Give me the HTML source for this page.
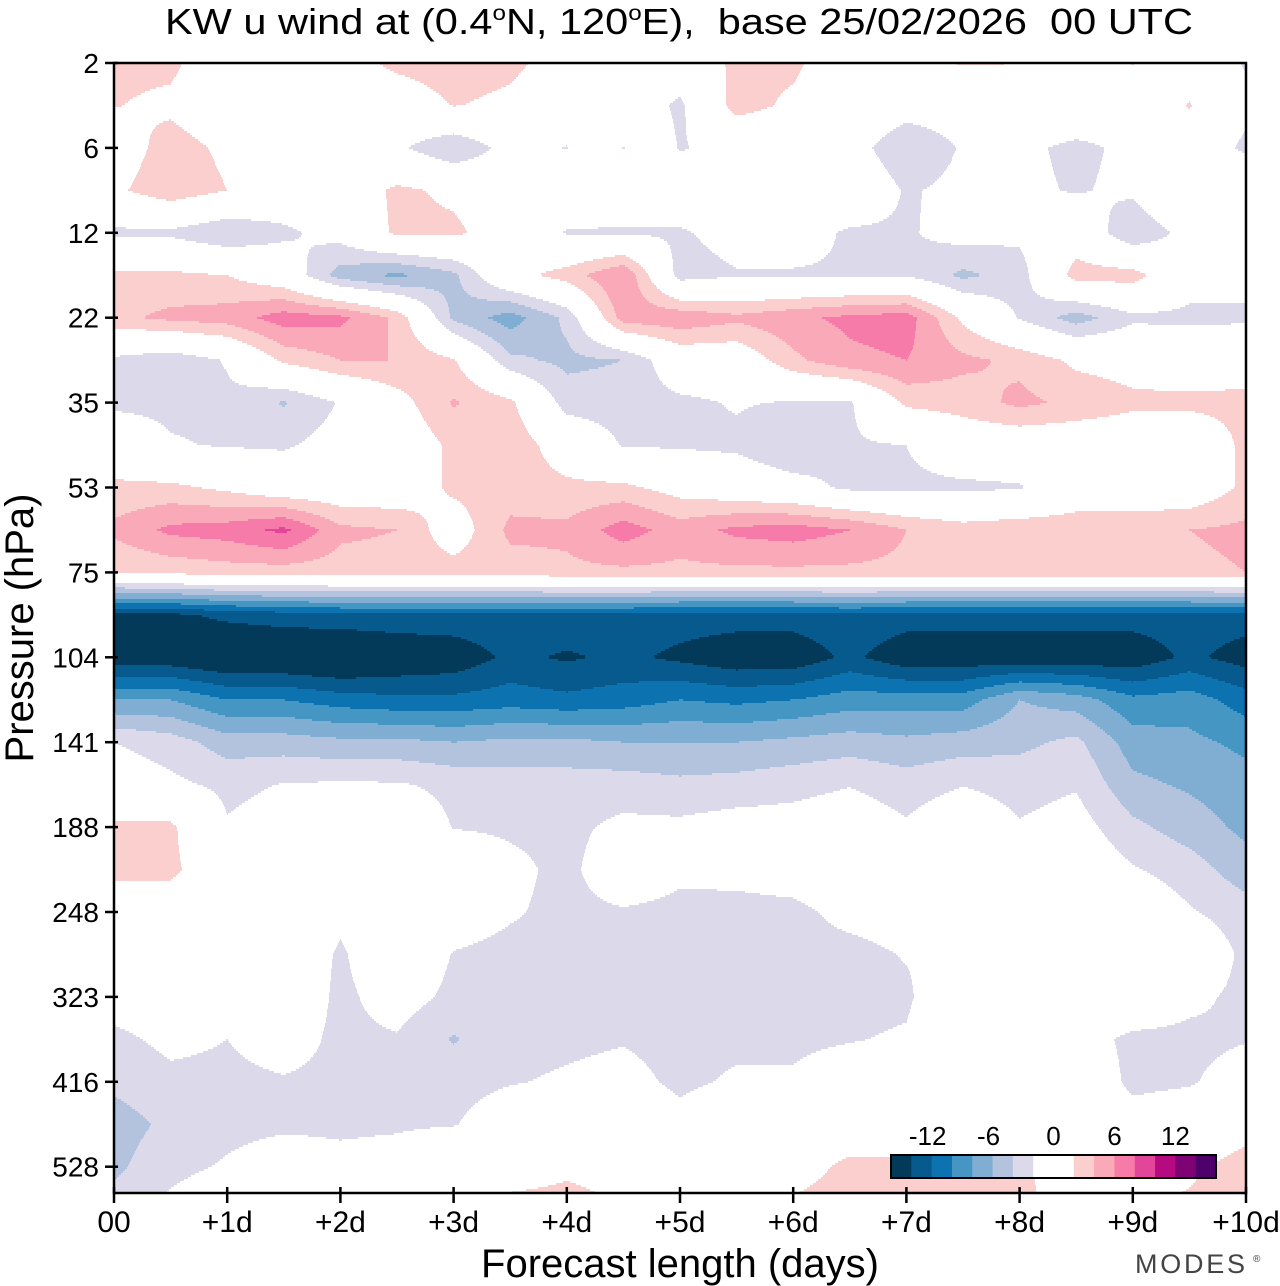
<!DOCTYPE html>
<html><head><meta charset="utf-8"><title>KW u wind</title>
<style>
html,body{margin:0;padding:0;background:#fff;}
svg{display:block;font-family:"Liberation Sans",Arial,sans-serif;}
</style></head>
<body>
<svg id="chart" width="1280" height="1286" viewBox="0 0 1280 1286" xmlns="http://www.w3.org/2000/svg">
<rect x="0" y="0" width="1280" height="1286" fill="#fff"/>
<g id="bands"></g>
<rect x="114" y="63" width="1132" height="1130" fill="none" stroke="#000" stroke-width="2.5"/>
<g id="yticks"></g>
<g id="xticks"></g>
<text xml:space="preserve" style="white-space:pre" x="165" y="34" font-size="36" textLength="1028" lengthAdjust="spacingAndGlyphs">KW u wind at (0.4<tspan font-size="21" dy="-14">o</tspan><tspan dy="14">N, 120</tspan><tspan font-size="21" dy="-14">o</tspan><tspan dy="14">E),  base 25/02/2026  00 UTC</tspan></text>
<text transform="translate(33,628) rotate(-90)" text-anchor="middle" font-size="40">Pressure (hPa)</text>
<text x="680" y="1277" text-anchor="middle" font-size="40">Forecast length (days)</text>
<text x="1135" y="1273" font-size="27" fill="#444" textLength="110" lengthAdjust="spacing">MODES</text>
<text x="1253" y="1262" font-size="10" fill="#444">®</text>
<g id="colorbar"></g>
</svg>
<script>
// ---- data ----
const times = [0,0.5,1,1.5,2,2.5,3,3.5,4,4.5,5,5.5,6,6.5,7,7.5,8,8.5,9,9.5,10];
const levelIndex = [0,0.5,1,1.5,2,2.5,3,3.5,4,4.5,5,5.5,6,6.5,7,7.5,8,8.5,9,9.5,10,10.5,11,11.5,12,12.5,13,13.5];
const pressureTicks = ['2','6','12','22','35','53','75','104','141','188','248','323','416','528'];
const dayTicks = ['00','+1d','+2d','+3d','+4d','+5d','+6d','+7d','+8d','+9d','+10d'];
const bandLevels = [-16,-14,-12,-10,-8,-6,-4,-2,0,2,4,6,8,10,12,14,16];
const bandColors = ['#033a5a','#065a8e','#0c72b0','#4696c3','#80aed2','#b3c3de','#dcdaea','#ffffff','#ffffff','#fccfcf','#f9a9b7','#f77ba8','#e3459a','#b60b80','#7e0476','#4f016b'];
const colorbarLabels = ['-12','-6','0','6','12'];
const colorbarLabelValues = [-12,-6,0,6,12];
const uWind = [
[2.5,2.5,0,0,1,2.5,3,2.5,1,0,0,2.5,2.5,0,1,2.2,2,1,2.1,0,-2.2],
[2.1,1.5,0,0,0,0.5,2.1,1.5,0,0,-2.5,3,1.5,0,-1,-1,0,0,-1,2.2,-1.5],
[0.5,3,1.5,0,0,-1.5,-4,-1,-2.1,2.1,-2.2,-1,-1,-1,-3.5,-1.8,-1.5,-2.5,-1.5,0,-2.5],
[1.5,3.5,2,0,0,2.5,1.5,0,0,0,0,0,0,0,-2.2,-1.5,-1.5,-2.2,-1.5,2,1],
[-2.5,-2.5,-4,-2.5,-1,2.5,2.5,0.5,-2.2,-2.3,-2.3,-1,-1,-2.3,-2.3,-1,-1.5,0.5,-4,-1,-1],
[2.5,2.5,2,0,-5,-6.5,-4.5,1,3,6,-3,-2.2,-2.2,-2.2,-2.2,-4.5,-3,3,3,-1,-1],
[3.5,4.5,5,7,6.5,3.5,-4.5,-7,-3.5,5,5.5,4.5,5.5,6.5,7,1.5,-2.2,-5,-2.5,-2.5,-2.5],
[-2.5,-3.5,-1.8,2.5,4,4,2.2,-3.5,-4.5,-4,0,0,3.5,5.5,6,4.5,3.5,1.5,1,0.5,1],
[-2.5,-2.5,-2.5,-4.2,-1.8,1,4.2,2.5,-3,-3,-2.5,-1.8,-2.2,-2.3,2.5,3,4.5,3.5,2.5,2.5,2.5],
[0,-1.8,-2.2,-2.3,-1,0,2.5,3.5,0.5,-2.2,-2.3,-2.5,-4,-2.3,-2,0,0,0,0,0,2.5],
[2.5,2.5,1.5,0,0,0,2.5,3,2.5,2.5,1,0,-1,-2.5,-2.5,-2.5,-2.2,0,0,0,2.5],
[4.5,6.5,7,8.5,4.5,4,0.5,4.5,4.5,7,5,6.5,7,6,4,3,3.5,3.5,3.5,4,4.5],
[2,2.5,3,3,3,3,3,3,3.5,3.5,3.5,3.5,3.5,3.5,3.5,3.5,3.5,3.5,3.5,3.5,4],
[-14.5,-14.5,-13.5,-13,-12.5,-12.5,-12.5,-12.5,-12.5,-12.5,-13,-13,-13,-12.5,-13,-13,-13,-13,-13,-13,-13],
[-15.5,-15.5,-16.5,-16.5,-17,-16,-15.5,-13.5,-14.3,-13.5,-14.5,-15.5,-15.5,-13.5,-15.5,-15.5,-15.5,-15.5,-15.5,-13.5,-15],
[-8,-8,-10,-10,-11,-11.5,-11.5,-11,-11.5,-11,-10,-10.5,-10,-9,-9,-9,-6,-7,-9.5,-9,-11],
[-2,-3,-5,-5,-5.5,-5.5,-6,-5.5,-5.5,-6,-6,-6,-5.5,-5,-5.5,-5,-4.5,-3.5,-7,-7.5,-8.5],
[-0.5,-1.5,-2.5,-1.9,-1.7,-1.8,-2.5,-3,-3,-3,-3.5,-3.2,-2.7,-2.1,-3,-2.1,-2.8,-2.2,-5.5,-6.3,-7.2],
[2.5,2.5,-1.8,-1,0,0,-2.1,-2.3,-2.5,-1.5,-1.5,-1,-1,-0.5,-1.7,0,-1.8,-1,-3.5,-5,-6.5],
[2.5,2.5,0,0,0,0,0,-1.5,-2.5,-0.5,-1.6,-1.5,-1.2,-0.5,0,0,0,0,-1.8,-3,-5.2],
[0.5,0.5,0,0,-1.5,0,-1,-1.8,-2.5,-2.2,-2.5,-2.5,-2.4,-1.5,-1.2,0,0,0,0,-1.8,-3],
[0,0,0,0,-2.3,0,-2.1,-2.5,-2.5,-2.5,-2.5,-2.5,-2.5,-2.5,-1.9,-1.5,0,0,0,0,-2.5],
[-1,-0.5,0,0,-2.5,-1,-2.5,-2.5,-2.5,-2.5,-2.5,-2.5,-2.5,-2.5,-2.3,0,0,0,0,-1.5,-2.5],
[-2.5,-1.5,-2,-1,-2.5,-2.2,-4.2,-2.5,-2.3,-2.1,-2.5,-2.3,-2.3,-2.1,-1.8,0,0,-1,-2.5,-2.5,-2.1],
[-3.5,-2.5,-2.5,-2.2,-2.5,-2.7,-2.5,-2.1,-1.8,-1.5,-2.3,-1.8,-1.8,-1,0,0,0,0,-2.5,-2.2,-1],
[-5,-3.5,-2.5,-2.3,-2.3,-2.2,-2.1,-1,-0.5,-0.5,-1.5,-0.5,0,0.5,0.5,0,0,0,-1,-0.5,1],
[-4.5,-2.5,-1.8,-1,-1.5,-1.3,0,0.5,1.5,1,0,0.5,1,2.5,2.5,2,2.5,0.5,0.5,1.5,3],
[-3,-1.5,-0.5,0,0,0,2.2,3,3,2,1,2.2,2.5,3,2.5,2.5,2.5,1,2,2.5,4]
];

// ---- scales ----
const PX0 = 114, PX1 = 1246, PY0 = 63, PY1 = 1193;
const xScale = t => PX0 + (t - times[0]) / (times[times.length-1] - times[0]) * (PX1 - PX0);
const yScale = li => PY0 + li * 84.9;
const yInv = y => (y - PY0) / 84.9;
const xInv = x => times[0] + (x - PX0) / (PX1 - PX0) * (times[times.length-1] - times[0]);
const NS = 'http://www.w3.org/2000/svg';

function sampleAt(t, li) {
  const nC = times.length, nR = levelIndex.length;
  let cf = (t - times[0]) / (times[1] - times[0]);
  let rf = (li - levelIndex[0]) / (levelIndex[1] - levelIndex[0]);
  cf = Math.max(0, Math.min(nC - 1.0001, cf));
  rf = Math.max(0, Math.min(nR - 1.0001, rf));
  const c = Math.floor(cf), r = Math.floor(rf), fx = cf - c, fy = rf - r;
  const v00 = uWind[r][c], v01 = uWind[r][c+1], v10 = uWind[r+1][c], v11 = uWind[r+1][c+1];
  return v00*(1-fx)*(1-fy) + v01*fx*(1-fy) + v10*(1-fx)*fy + v11*fx*fy;
}
function bandIndex(v) {
  for (let k = 1; k < bandLevels.length - 1; k++) if (v < bandLevels[k]) return k - 1;
  return bandLevels.length - 2;
}

// ---- filled contour bands (run-length rows) ----
const paths = bandColors.map(() => []);
const STEP = 2;
for (let y = PY0; y < PY1; y += STEP) {
  const li = yInv(y + STEP / 2);
  let runStart = PX0, runIdx = -1;
  for (let x = PX0; x <= PX1; x++) {
    let idx = -2;
    if (x < PX1) idx = bandIndex(sampleAt(xInv(x + 0.5), li));
    if (idx !== runIdx) {
      if (runIdx >= 0 && x > runStart && bandColors[runIdx] !== '#ffffff') {
        paths[runIdx].push('M' + runStart + ' ' + y + 'h' + (x - runStart) + 'v' + STEP + 'h' + (runStart - x) + 'z');
      }
      runStart = x; runIdx = idx;
    }
  }
}
const bandsG = document.getElementById('bands');
paths.forEach((p, k) => {
  if (!p.length) return;
  const el = document.createElementNS(NS, 'path');
  el.setAttribute('d', p.join(''));
  el.setAttribute('fill', bandColors[k]);
  el.setAttribute('shape-rendering', 'crispEdges');
  
  
  bandsG.appendChild(el);
});

// ---- axes ----
const yt = document.getElementById('yticks');
pressureTicks.forEach((lab, i) => {
  const y = yScale(i);
  const ln = document.createElementNS(NS, 'line');
  ln.setAttribute('x1', 105); ln.setAttribute('x2', 118);
  ln.setAttribute('y1', y); ln.setAttribute('y2', y);
  ln.setAttribute('stroke', '#000'); ln.setAttribute('stroke-width', '2.5');
  
  
  yt.appendChild(ln);
  const tx = document.createElementNS(NS, 'text');
  tx.setAttribute('x', 99); tx.setAttribute('y', y + 10);
  tx.setAttribute('text-anchor', 'end'); tx.setAttribute('font-size', '28');
  tx.textContent = lab;
  
  
  yt.appendChild(tx);
});
const xt = document.getElementById('xticks');
dayTicks.forEach((lab, i) => {
  const x = xScale(i);
  const ln = document.createElementNS(NS, 'line');
  ln.setAttribute('x1', x); ln.setAttribute('x2', x);
  ln.setAttribute('y1', 1187); ln.setAttribute('y2', 1203);
  ln.setAttribute('stroke', '#000'); ln.setAttribute('stroke-width', '2.5');
  
  
  xt.appendChild(ln);
  const tx = document.createElementNS(NS, 'text');
  tx.setAttribute('x', x); tx.setAttribute('y', 1232);
  tx.setAttribute('text-anchor', 'middle'); tx.setAttribute('font-size', '30');
  tx.textContent = lab;
  
  
  xt.appendChild(tx);
});

// ---- colorbar ----
const cb = document.getElementById('colorbar');
const CB0 = 891, CB1 = 1216, CBY = 1155, CBH = 23;
const cbX = v => CB0 + (v - bandLevels[0]) / (bandLevels[bandLevels.length-1] - bandLevels[0]) * (CB1 - CB0);
bandColors.forEach((col, k) => {
  const r = document.createElementNS(NS, 'rect');
  r.setAttribute('x', cbX(bandLevels[k])); r.setAttribute('y', CBY);
  r.setAttribute('width', cbX(bandLevels[k+1]) - cbX(bandLevels[k]) + 0.5); r.setAttribute('height', CBH);
  r.setAttribute('fill', col);
  
  
  cb.appendChild(r);
});
const cbFrame = document.createElementNS(NS, 'rect');
cbFrame.setAttribute('x', CB0); cbFrame.setAttribute('y', CBY);
cbFrame.setAttribute('width', CB1 - CB0); cbFrame.setAttribute('height', CBH);
cbFrame.setAttribute('fill', 'none'); cbFrame.setAttribute('stroke', '#000'); cbFrame.setAttribute('stroke-width', '2');


cb.appendChild(cbFrame);
colorbarLabels.forEach((lab, i) => {
  const tx = document.createElementNS(NS, 'text');
  tx.setAttribute('x', cbX(colorbarLabelValues[i]) + (lab.startsWith('-') ? -4 : 0));
  tx.setAttribute('y', 1145);
  tx.setAttribute('text-anchor', 'middle'); tx.setAttribute('font-size', '26');
  tx.textContent = lab;
  
  
  cb.appendChild(tx);
});
</script>
</body></html>
